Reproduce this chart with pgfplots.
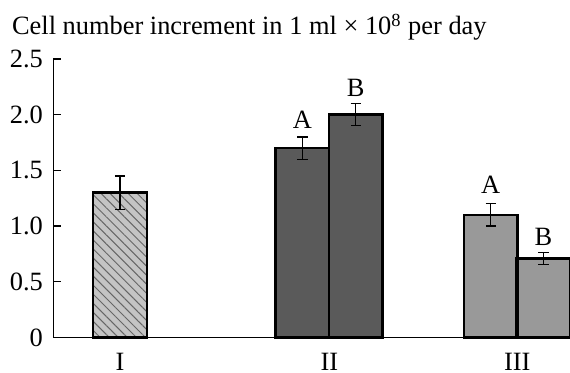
\documentclass[border=0pt]{standalone}
\usepackage{pgfplots}
\pgfplotsset{compat=1.18}
\usetikzlibrary{patterns.meta}
\usepackage{fontspec}
\setmainfont{Liberation Serif}
\definecolor{hatchfill}{HTML}{C4C4C4}
\definecolor{hatchline}{HTML}{666666}
\definecolor{darkbar}{HTML}{5A5A5A}
\definecolor{midbar}{HTML}{999999}
\begin{document}
\fontsize{13.2}{15}\selectfont
\begin{tikzpicture}
\path[use as bounding box] (-26.65pt,-17.75pt) rectangle (258.35pt,168.75pt);
\begin{axis}[
  at={(0,0)}, anchor=south west,
  scale only axis, width=258.35pt, height=139.25pt,
  xmin=0, xmax=516.7, ymin=0, ymax=2.5,
  axis x line*=bottom, axis y line*=left,
  axis line style={line width=0.6pt, -},
  xtick={66.7,276,464}, xticklabels={I,II,III},
  x tick style={draw=none},
  ytick={0,0.5,1,1.5,2,2.5}, yticklabels={0,0.5,1.0,1.5,2.0,2.5},
  y tick style={line width=0.6pt, black},
  tick align=inside, major tick length=4pt,
  ticklabel style={font=\fontsize{13.2}{15}\selectfont},
  /pgf/number format/assume math mode=true,
  xticklabel style={anchor=north, inner sep=0pt, yshift=-3.5pt},
  yticklabel style={xshift=-0.6pt},
  ybar, bar width=53.5, bar shift=0pt,
  clip=false,
  every axis plot/.append style={line width=1.2pt, draw=black},
  error bars/y dir=both, error bars/y explicit,
  error bars/error bar style={line width=0.6pt, black},
  error bars/error mark options={black, line width=0.6pt, mark size=2.6pt, rotate=90},
]
\addplot[fill=hatchfill, postaction={pattern={Lines[angle=-45,distance=3.2pt,line width=0.5pt]}, pattern color=hatchline}]
  coordinates {(66.7,1.3) +- (0,0.15)};
\addplot[fill=darkbar] coordinates {(249,1.7) +- (0,0.1) (302.4,2.0) +- (0,0.1)};
\addplot[fill=midbar] coordinates {(437.4,1.1) +- (0,0.1) (490,0.71) +- (0,0.055)};
\node[anchor=base] at (axis cs:249,1.88) {A};
\node[anchor=base] at (axis cs:302.4,2.16) {B};
\node[anchor=base] at (axis cs:437.4,1.29) {A};
\node[anchor=base] at (axis cs:490,0.83) {B};
\end{axis}
\node[anchor=base west, inner sep=0pt] at (-20.8pt,151.25pt) {Cell number increment in 1 ml × 10\textsuperscript{8} per day};
\end{tikzpicture}
\end{document}
